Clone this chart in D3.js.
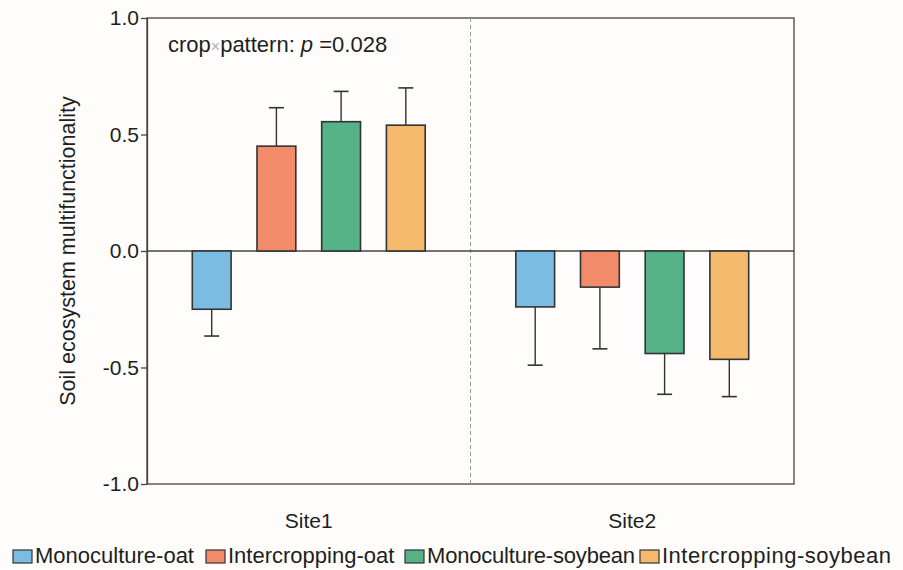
<!DOCTYPE html>
<html>
<head>
<meta charset="utf-8">
<script src="https://d3js.org/d3.v7.min.js"></script>
<style>
  html, body { margin: 0; padding: 0; background: #fefdfb; }
  svg { display: block; font-family: "Liberation Sans", Arial, sans-serif; }
</style>
</head>
<body>
<svg id="chart" width="903" height="570"></svg>
<script>
// Soil ecosystem multifunctionality by site and treatment (mean ± SE)
const sites = ["Site1", "Site2"];
const treatments = ["Monoculture-oat", "Intercropping-oat", "Monoculture-soybean", "Intercropping-soybean"];
const colors = ["#7bbde2", "#f28b69", "#55b287", "#f4b96b"];
const site1Mean = [-0.25, 0.45, 0.555, 0.54];
const site1SE   = [0.115, 0.165, 0.13, 0.16];
const site2Mean = [-0.24, -0.155, -0.44, -0.465];
const site2SE   = [0.25, 0.265, 0.175, 0.16];
const yTicks = [-1.0, -0.5, 0.0, 0.5, 1.0];

const rows = [];
sites.forEach((s, si) => {
  const m = si === 0 ? site1Mean : site2Mean;
  const e = si === 0 ? site1SE : site2SE;
  treatments.forEach((t, ti) => rows.push({ site: s, treatment: t, mean: m[ti], se: e[ti], color: colors[ti] }));
});

const svg = d3.select("#chart");
const margin = { left: 147, right: 109, top: 18, bottom: 86 };
const W = 903, H = 570;
const x0 = margin.left, x1 = W - margin.right;
const yTop = margin.top, yBot = H - margin.bottom;

const y = d3.scaleLinear().domain([-1, 1]).range([yBot, yTop]);
const xSite = d3.scaleBand().domain(sites).range([x0, x1]).padding(0);
const xTreat = d3.scaleBand().domain(treatments).range([0, xSite.bandwidth()])
  .paddingInner(0.4).paddingOuter(0.7);

const ink = "#333";
const textInk = "#1e1e1e";

// frame
svg.append("rect").attr("x", x0).attr("y", yTop).attr("width", x1 - x0).attr("height", yBot - yTop)
  .attr("fill", "none").attr("stroke", "#444").attr("stroke-width", 1.3);

// dashed divider between sites
svg.append("line")
  .attr("x1", xSite("Site2")).attr("x2", xSite("Site2"))
  .attr("y1", yTop).attr("y2", yBot)
  .attr("stroke", "#999").attr("stroke-width", 1).attr("stroke-dasharray", "4,3");

// zero line
svg.append("line").attr("x1", x0).attr("x2", x1).attr("y1", y(0)).attr("y2", y(0))
  .attr("stroke", "#444").attr("stroke-width", 1.3);

// y axis (plain hyphen for negatives)
const yAxis = svg.append("g").attr("transform", `translate(${x0},0)`)
  .call(d3.axisLeft(y).tickValues(yTicks).tickFormat(d => d.toFixed(1)).tickSize(6).tickSizeOuter(0));
yAxis.select(".domain").attr("stroke", "#444").attr("stroke-width", 1.3);
yAxis.selectAll(".tick line").attr("stroke", "#444").attr("stroke-width", 1.3);
yAxis.selectAll(".tick text").attr("font-size", 21).attr("fill", textInk).attr("x", -8)
  .attr("font-family", "Liberation Sans, Arial, sans-serif");

// y title
svg.append("text")
  .attr("transform", `translate(75,${(yTop + yBot) / 2}) rotate(-90)`)
  .attr("text-anchor", "middle").attr("font-size", 21.5).attr("fill", textInk)
  .text("Soil ecosystem multifunctionality");

// site labels
svg.selectAll("text.site").data(sites).join("text").attr("class", "site")
  .attr("x", d => xSite(d) + xSite.bandwidth() / 2).attr("y", 528)
  .attr("text-anchor", "middle").attr("font-size", 21).attr("fill", textInk).text(d => d);

// bars
const groups = svg.selectAll("g.bar").data(rows).join("g").attr("class", "bar")
  .attr("transform", d => `translate(${xSite(d.site) + xTreat(d.treatment)},0)`);

// error bars (drawn away from zero)
const tip = d => y(d.mean + Math.sign(d.mean) * d.se);
groups.append("line")
  .attr("x1", xTreat.bandwidth() / 2).attr("x2", xTreat.bandwidth() / 2)
  .attr("y1", d => y(d.mean)).attr("y2", tip)
  .attr("stroke", ink).attr("stroke-width", 1.4);
groups.append("line")
  .attr("x1", xTreat.bandwidth() / 2 - 7.5).attr("x2", xTreat.bandwidth() / 2 + 7.5)
  .attr("y1", tip).attr("y2", tip)
  .attr("stroke", ink).attr("stroke-width", 1.6);

groups.append("rect")
  .attr("x", 0).attr("width", xTreat.bandwidth())
  .attr("y", d => y(Math.max(0, d.mean)))
  .attr("height", d => Math.abs(y(d.mean) - y(0)))
  .attr("fill", d => d.color).attr("stroke", ink).attr("stroke-width", 1.6);

// interaction annotation
const ann = svg.append("text").attr("x", 168).attr("y", 52).attr("font-size", 22).attr("fill", textInk);
ann.append("tspan").text("crop");
ann.append("tspan").attr("fill", "#b0b0b0").attr("font-size", 16).text("×");
ann.append("tspan").text("pattern: ");
ann.append("tspan").attr("font-style", "italic").text("p");
ann.append("tspan").text(" =0.028");

// legend
const legendX = [13, 206, 405, 640];
const leg = svg.selectAll("g.leg").data(treatments).join("g").attr("class", "leg")
  .attr("transform", (d, i) => `translate(${legendX[i]},550)`);
leg.append("rect").attr("width", 19).attr("height", 13)
  .attr("fill", (d, i) => colors[i]).attr("stroke", ink).attr("stroke-width", 1.2);
leg.append("text").attr("x", 22).attr("y", 13).attr("font-size", 22).attr("fill", textInk)
  .attr("letter-spacing", (d, i) => i === 2 ? -0.2 : i === 3 ? 0.5 : 0)
  .text(d => d);
</script>
</body>
</html>
